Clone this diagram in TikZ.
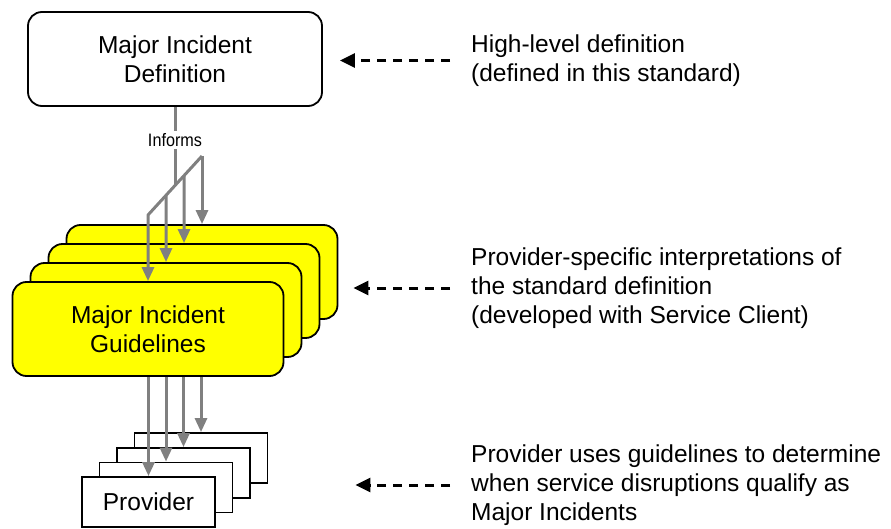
\documentclass[tikz,border=0pt]{standalone}
\usepackage{fontspec}
\setmainfont{Liberation Sans}
\newfontfamily\narrowfont[FakeStretch=0.9]{Liberation Sans}
\usepackage{tikz}
\usetikzlibrary{arrows.meta,calc}
\usepackage{xcolor}
\definecolor{flowgray}{HTML}{808080}
\definecolor{guideyellow}{HTML}{FFFF00}

\begin{document}
\begin{tikzpicture}[x=1pt,y=-1pt,
  txt/.style={font=\fontsize{24.5}{29}\selectfont},
  defbox/.style={draw,line width=1.8pt,rounded corners=14pt,fill=white,minimum width=294pt,minimum height=94pt,align=center,inner sep=0pt,txt},
  guidebox/.style={defbox,fill=guideyellow,minimum width=271pt},
  provbox/.style={draw,line width=1.8pt,fill=white,minimum width=133pt,minimum height=50pt,inner sep=0pt,txt},
  note/.style={anchor=west,align=left,inner sep=0pt,txt},
  link/.style={draw=flowgray,line width=3pt,line join=round},
  flow/.style={link,-{Triangle[length=14pt,width=12pt]}},
  hint/.style={line width=3pt,dash pattern=on 9pt off 7pt,-{Triangle[length=15pt,width=14pt]}}]
\useasboundingbox (0,0) rectangle (891,529);
% definition box
\node[defbox] (defn) at (175,59) {Major Incident\\Definition};
% stack of guideline boxes, back to front
\node[guidebox] (guide1) at (202,272) {};
\node[guidebox] (guide2) at (184,291) {};
\node[guidebox] (guide3) at (166,310) {};
\node[guidebox] (guide4) at (148,329) {Major Incident\\Guidelines};
% stack of provider boxes
\node[provbox] (prov1) at (201,458) {};
\node[provbox] (prov2) at (183.5,473) {};
\node[provbox] (prov3) at (166,487.5) {};
\node[provbox] (prov4) at (148.5,502) {Provider};
% fan out into the guidelines
\coordinate (split) at (148,215);
\coordinate (splittop) at (202,156);
\draw[link] (defn.south) -- ($(split)!0.5!(splittop)$);
\node[fill=white,inner sep=2pt,font=\narrowfont\fontsize{18}{20}\selectfont] (informs) at (175,140) {Informs};
\draw[flow] (splittop) -- (split) -- (guide4.north);
\draw[flow] ($(split)!1/3!(splittop)$) -- (guide3.north);
\draw[flow] ($(split)!2/3!(splittop)$) -- (guide2.north);
\draw[flow] (splittop) -- (guide1.north);
% guidelines down to the providers
\foreach \i in {1,...,4}
  \draw[flow] (guide4.south -| prov\i.north) -- (prov\i.north);
% notes on the right
\node[note] (note1) at (471,60.5) {High-level definition\\(defined in this standard)};
\node[note] (note2) at (471,288) {Provider-specific interpretations of\\the standard definition\\(developed with Service Client)};
\node[note] (note3) at (471,485) {Provider uses guidelines to determine\\when service disruptions qualify as\\Major Incidents};
\draw[hint,shorten <=21pt,shorten >=17pt] (note1.west) -- (note1.west -| defn.east);
\draw[hint,shorten <=21pt,shorten >=15pt] (note2.west) -- (note2.west -| guide1.east);
\draw[hint,shorten <=21pt,shorten >=17pt] (note3.west) -- (note3.west -| guide1.east);
\end{tikzpicture}
\end{document}
